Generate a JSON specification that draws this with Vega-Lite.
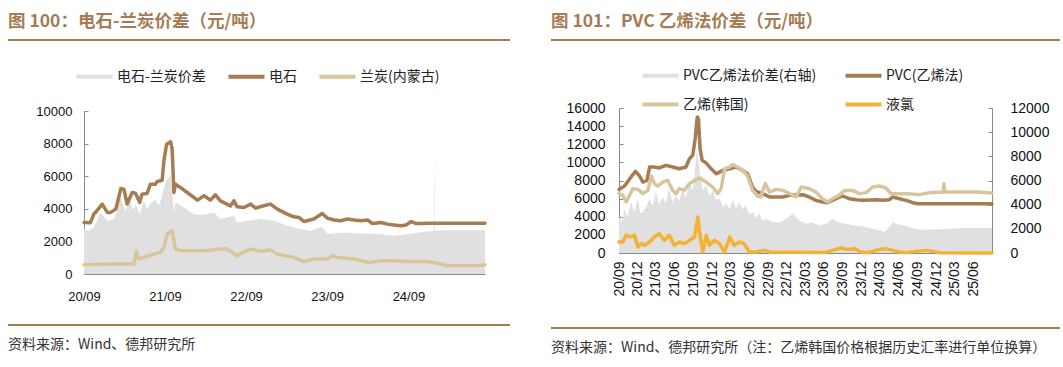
{
  "$schema": "https://vega.github.io/schema/vega-lite/v6.json",
  "background": "white",
  "padding": {"left": 7, "top": 4, "right": 0, "bottom": 0},
  "config": {
    "view": {"stroke": null},
    "font": "Noto Sans CJK SC",
    "axis": {"labelFont": "Liberation Sans", "labelColor": "#111111", "domainColor": "#8a8a8a", "tickColor": "#8a8a8a", "grid": false, "title": null, "labelFlush": false, "labelOverlap": false, "labelBound": false, "tickSize": -4}
  },
  "spacing": 39,
  "resolve": {"scale": {"color": "independent"}, "legend": {"color": "independent"}},
  "hconcat": [
    {
      "spacing": 64,
      "vconcat": [
        {
          "width": 502, "height": 36,
          "data": {"values": [{"t": "图 100：电石-兰炭价差（元/吨）"}]},
          "layer": [
            {"mark": {"type": "text", "align": "left", "baseline": "middle", "fontSize": 17.5, "fontWeight": "bold", "color": "#A57C55", "font": "Noto Sans CJK SC"},
             "encoding": {"x": {"datum": 0, "type": "quantitative", "scale": {"domain": [0, 1]}, "axis": null}, "y": {"datum": 0.5, "type": "quantitative", "scale": {"domain": [0, 1]}, "axis": null}, "text": {"field": "t"}}},
            {"mark": {"type": "rule", "color": "#A67C52", "strokeWidth": 2},
             "encoding": {"x": {"datum": 0, "type": "quantitative"}, "x2": {"datum": 1}, "y": {"datum": 0, "type": "quantitative"}}}
          ]
        },
        {
          "spacing": 21,
          "vconcat": [
            {
              "width": 477, "height": 163,
              "data": {"values": [
                {"d":"2020-09-01","s":"电石-兰炭价差","v":2760},{"d":"2020-09-20","s":"电石-兰炭价差","v":2650},{"d":"2020-10-15","s":"电石-兰炭价差","v":2860},{"d":"2020-10-30","s":"电石-兰炭价差","v":3300},{"d":"2020-11-15","s":"电石-兰炭价差","v":3780},{"d":"2020-12-01","s":"电石-兰炭价差","v":3500},{"d":"2020-12-15","s":"电石-兰炭价差","v":3270},{"d":"2021-01-14","s":"电石-兰炭价差","v":3370},{"d":"2021-01-28","s":"电石-兰炭价差","v":3900},{"d":"2021-02-11","s":"电石-兰炭价差","v":4900},{"d":"2021-02-22","s":"电石-兰炭价差","v":4300},{"d":"2021-03-06","s":"电石-兰炭价差","v":3880},{"d":"2021-03-29","s":"电石-兰炭价差","v":4490},{"d":"2021-04-10","s":"电石-兰炭价差","v":3900},{"d":"2021-04-21","s":"电石-兰炭价差","v":4290},{"d":"2021-05-10","s":"电石-兰炭价差","v":3670},{"d":"2021-05-28","s":"电石-兰炭价差","v":4490},{"d":"2021-06-12","s":"电石-兰炭价差","v":4000},{"d":"2021-06-27","s":"电石-兰炭价差","v":4290},{"d":"2021-07-20","s":"电石-兰炭价差","v":4590},{"d":"2021-08-01","s":"电石-兰炭价差","v":4200},{"d":"2021-08-12","s":"电石-兰炭价差","v":4490},{"d":"2021-09-04","s":"电石-兰炭价差","v":5710},{"d":"2021-09-26","s":"电石-兰炭价差","v":6020},{"d":"2021-10-11","s":"电石-兰炭价差","v":3780},{"d":"2021-10-18","s":"电石-兰炭价差","v":4390},{"d":"2021-11-25","s":"电石-兰炭价差","v":4080},{"d":"2022-01-09","s":"电石-兰炭价差","v":3670},{"d":"2022-02-24","s":"电石-兰炭价差","v":3630},{"d":"2022-04-09","s":"电石-兰炭价差","v":3780},{"d":"2022-05-08","s":"电石-兰炭价差","v":3370},{"d":"2022-07-08","s":"电石-兰炭价差","v":3570},{"d":"2022-07-23","s":"电石-兰炭价差","v":3160},{"d":"2022-09-07","s":"电石-兰炭价差","v":3270},{"d":"2022-11-06","s":"电石-兰炭价差","v":3370},{"d":"2023-01-05","s":"电石-兰炭价差","v":3270},{"d":"2023-03-05","s":"电石-兰炭价差","v":2960},{"d":"2023-05-04","s":"电石-兰炭价差","v":2760},{"d":"2023-06-18","s":"电石-兰炭价差","v":2650},{"d":"2023-08-10","s":"电石-兰炭价差","v":2900},{"d":"2023-09-02","s":"电石-兰炭价差","v":2450},{"d":"2023-11-16","s":"电石-兰炭价差","v":2550},{"d":"2024-01-31","s":"电石-兰炭价差","v":2490},{"d":"2024-04-15","s":"电石-兰炭价差","v":2450},{"d":"2024-06-29","s":"电石-兰炭价差","v":2350},{"d":"2024-08-28","s":"电石-兰炭价差","v":2450},{"d":"2024-11-27","s":"电石-兰炭价差","v":2610},{"d":"2024-12-24","s":"电石-兰炭价差","v":2650},{"d":"2024-12-26","s":"电石-兰炭价差","v":7600},{"d":"2024-12-28","s":"电石-兰炭价差","v":2650},{"d":"2025-02-10","s":"电石-兰炭价差","v":2690},{"d":"2025-08-12","s":"电石-兰炭价差","v":2690},
                {"d":"2020-09-01","s":"电石","v":3160},{"d":"2020-09-30","s":"电石","v":3150},{"d":"2020-10-15","s":"电石","v":3680},{"d":"2020-10-23","s":"电石","v":3780},{"d":"2020-11-22","s":"电石","v":4290},{"d":"2020-12-15","s":"电石","v":3780},{"d":"2020-12-30","s":"电石","v":3780},{"d":"2021-01-22","s":"电石","v":3980},{"d":"2021-02-14","s":"电石","v":5240},{"d":"2021-02-28","s":"电石","v":5200},{"d":"2021-03-14","s":"电石","v":4290},{"d":"2021-04-06","s":"电石","v":5000},{"d":"2021-04-21","s":"电石","v":4950},{"d":"2021-05-10","s":"电石","v":4390},{"d":"2021-05-20","s":"电石","v":4900},{"d":"2021-06-12","s":"电石","v":4940},{"d":"2021-06-27","s":"电石","v":5510},{"d":"2021-07-20","s":"电石","v":5510},{"d":"2021-07-27","s":"电石","v":5670},{"d":"2021-08-19","s":"电石","v":5755},{"d":"2021-08-27","s":"电石","v":6940},{"d":"2021-09-08","s":"电石","v":7960},{"d":"2021-09-26","s":"电石","v":8120},{"d":"2021-10-03","s":"电石","v":7650},{"d":"2021-10-11","s":"电石","v":5000},{"d":"2021-10-18","s":"电石","v":5510},{"d":"2021-11-10","s":"电石","v":5300},{"d":"2021-12-10","s":"电石","v":5000},{"d":"2022-01-25","s":"电石","v":4530},{"d":"2022-02-24","s":"电石","v":4800},{"d":"2022-03-24","s":"电石","v":4530},{"d":"2022-04-16","s":"电石","v":4860},{"d":"2022-05-08","s":"电石","v":4490},{"d":"2022-06-23","s":"电石","v":4180},{"d":"2022-07-08","s":"电石","v":4490},{"d":"2022-07-23","s":"电石","v":4120},{"d":"2022-08-22","s":"电石","v":4080},{"d":"2022-09-22","s":"电石","v":4290},{"d":"2022-10-14","s":"电石","v":4040},{"d":"2022-11-06","s":"电石","v":4140},{"d":"2022-12-20","s":"电石","v":4290},{"d":"2023-01-20","s":"电石","v":3980},{"d":"2023-03-05","s":"电石","v":3670},{"d":"2023-04-04","s":"电石","v":3510},{"d":"2023-04-27","s":"电石","v":3470},{"d":"2023-05-19","s":"电石","v":3220},{"d":"2023-07-03","s":"电石","v":3370},{"d":"2023-08-10","s":"电石","v":3710},{"d":"2023-09-02","s":"电石","v":3430},{"d":"2023-10-02","s":"电石","v":3310},{"d":"2023-11-01","s":"电石","v":3270},{"d":"2023-12-01","s":"电石","v":3370},{"d":"2024-01-01","s":"电石","v":3310},{"d":"2024-01-31","s":"电石","v":3270},{"d":"2024-03-01","s":"电石","v":3310},{"d":"2024-03-23","s":"电石","v":3100},{"d":"2024-04-30","s":"电石","v":3160},{"d":"2024-05-30","s":"电石","v":3060},{"d":"2024-06-29","s":"电石","v":3000},{"d":"2024-07-29","s":"电石","v":2960},{"d":"2024-08-21","s":"电石","v":3000},{"d":"2024-09-13","s":"电石","v":3220},{"d":"2024-10-05","s":"电石","v":3100},{"d":"2024-11-04","s":"电石","v":3100},{"d":"2024-11-27","s":"电石","v":3120},{"d":"2025-08-12","s":"电石","v":3120},
                {"d":"2020-09-01","s":"兰炭(内蒙古)","v":570},{"d":"2020-12-30","s":"兰炭(内蒙古)","v":610},{"d":"2021-04-13","s":"兰炭(内蒙古)","v":610},{"d":"2021-04-25","s":"兰炭(内蒙古)","v":1390},{"d":"2021-05-05","s":"兰炭(内蒙古)","v":920},{"d":"2021-05-28","s":"兰炭(内蒙古)","v":1020},{"d":"2021-07-12","s":"兰炭(内蒙古)","v":1220},{"d":"2021-08-12","s":"兰炭(内蒙古)","v":1330},{"d":"2021-08-27","s":"兰炭(内蒙古)","v":1630},{"d":"2021-09-11","s":"兰炭(内蒙古)","v":2450},{"d":"2021-10-03","s":"兰炭(内蒙古)","v":2650},{"d":"2021-10-18","s":"兰炭(内蒙古)","v":1530},{"d":"2021-11-10","s":"兰炭(内蒙古)","v":1430},{"d":"2022-02-24","s":"兰炭(内蒙古)","v":1430},{"d":"2022-06-01","s":"兰炭(内蒙古)","v":1570},{"d":"2022-07-08","s":"兰炭(内蒙古)","v":1270},{"d":"2022-07-23","s":"兰炭(内蒙古)","v":1120},{"d":"2022-08-15","s":"兰炭(内蒙古)","v":1330},{"d":"2022-09-22","s":"兰炭(内蒙古)","v":1530},{"d":"2022-11-06","s":"兰炭(内蒙古)","v":1390},{"d":"2022-12-20","s":"兰炭(内蒙古)","v":1470},{"d":"2023-01-20","s":"兰炭(内蒙古)","v":1220},{"d":"2023-04-04","s":"兰炭(内蒙古)","v":1020},{"d":"2023-05-19","s":"兰炭(内蒙古)","v":760},{"d":"2023-07-03","s":"兰炭(内蒙古)","v":920},{"d":"2023-09-02","s":"兰炭(内蒙古)","v":920},{"d":"2023-09-25","s":"兰炭(内蒙古)","v":1120},{"d":"2023-10-17","s":"兰炭(内蒙古)","v":1020},{"d":"2024-01-01","s":"兰炭(内蒙古)","v":920},{"d":"2024-03-08","s":"兰炭(内蒙古)","v":710},{"d":"2024-04-30","s":"兰炭(内蒙古)","v":820},{"d":"2024-06-29","s":"兰炭(内蒙古)","v":820},{"d":"2024-08-21","s":"兰炭(内蒙古)","v":760},{"d":"2024-11-27","s":"兰炭(内蒙古)","v":760},{"d":"2025-01-26","s":"兰炭(内蒙古)","v":610},{"d":"2025-02-25","s":"兰炭(内蒙古)","v":510},{"d":"2025-07-09","s":"兰炭(内蒙古)","v":510},{"d":"2025-08-12","s":"兰炭(内蒙古)","v":570}
              ]},
              "encoding": {
                "x": {"field": "d", "type": "temporal", "scale": {"type": "utc", "range": [76, 477], "domain": [{"year": 2020, "month": 9, "date": 1, "utc": true}, {"year": 2025, "month": 8, "date": 12, "utc": true}]},
                      "axis": {"values": [{"year": 2020, "month": 9, "date": 1, "utc": true}, {"year": 2021, "month": 9, "date": 1, "utc": true}, {"year": 2022, "month": 9, "date": 1, "utc": true}, {"year": 2023, "month": 9, "date": 1, "utc": true}, {"year": 2024, "month": 9, "date": 1, "utc": true}], "format": "%y/%m", "labelFontSize": 13, "labelPadding": 20}},
                "y": {"field": "v", "type": "quantitative", "scale": {"domain": [0, 10000]}, "axis": {"values": [0, 2000, 4000, 6000, 8000, 10000], "format": "d", "labelFontSize": 13, "labelPadding": 16, "offset": -76}}
              },
              "layer": [
                {"transform": [{"filter": "datum.s === '电石-兰炭价差'"}],
                 "mark": {"type": "area", "opacity": 1},
                 "encoding": {"color": {"field": "s", "type": "nominal", "scale": {"domain": ["电石-兰炭价差", "电石", "兰炭(内蒙古)"], "range": ["#E0E0E0", "#A67C52", "#D9C59C"]},
                   "legend": {"orient": "none", "legendX": 66, "legendY": 52, "direction": "horizontal", "title": null, "symbolType": "stroke", "symbolSize": 1300, "symbolStrokeWidth": 4, "labelFont": "Noto Sans CJK SC", "labelFontSize": 14, "labelColor": "#222222", "labelOffset": 2, "columnPadding": 14,
                     "encode": {"symbols": {"update": {"stroke": {"scale": "color", "field": "value"}, "strokeWidth": {"signal": "datum.value === '电石-兰炭价差' ? 8 : 4"}, "strokeCap": {"signal": "datum.value === '电石-兰炭价差' ? 'butt' : 'round'"}}}}}}}},
                {"transform": [{"filter": "datum.s === '兰炭(内蒙古)'"}],
                 "mark": {"type": "line", "strokeWidth": 3.5, "strokeJoin": "round", "strokeCap": "round"},
                 "encoding": {"color": {"field": "s", "type": "nominal"}}},
                {"transform": [{"filter": "datum.s === '电石'"}],
                 "mark": {"type": "line", "strokeWidth": 3.5, "strokeJoin": "round", "strokeCap": "round"},
                 "encoding": {"color": {"field": "s", "type": "nominal"}}}
              ]
            },
            {
              "width": 502, "height": 30,
              "data": {"values": [{"t": "资料来源：Wind、德邦研究所"}]},
              "layer": [
                {"mark": {"type": "rule", "color": "#A67C52", "strokeWidth": 2},
                 "encoding": {"x": {"datum": 0, "type": "quantitative", "scale": {"domain": [0, 1]}, "axis": null}, "x2": {"datum": 1}, "y": {"datum": 1, "type": "quantitative", "scale": {"domain": [0, 1]}, "axis": null}}},
                {"mark": {"type": "text", "align": "left", "baseline": "middle", "fontSize": 14, "color": "#333333", "font": "Noto Sans CJK SC"},
                 "encoding": {"x": {"datum": 0, "type": "quantitative"}, "y": {"datum": 0.33, "type": "quantitative"}, "text": {"field": "t"}}}
              ]
            }
          ]
        }
      ]
    },
    {
      "spacing": 60,
      "vconcat": [
        {
          "width": 509, "height": 36,
          "data": {"values": [{"t": "图 101：PVC 乙烯法价差（元/吨）"}]},
          "layer": [
            {"mark": {"type": "text", "align": "left", "baseline": "middle", "fontSize": 17.5, "fontWeight": "bold", "color": "#A57C55", "font": "Noto Sans CJK SC"},
             "encoding": {"x": {"datum": 0, "type": "quantitative", "scale": {"domain": [0, 1]}, "axis": null}, "y": {"datum": 0.5, "type": "quantitative", "scale": {"domain": [0, 1]}, "axis": null}, "text": {"field": "t"}}},
            {"mark": {"type": "rule", "color": "#A67C52", "strokeWidth": 2},
             "encoding": {"x": {"datum": 0, "type": "quantitative"}, "x2": {"datum": 1}, "y": {"datum": 0, "type": "quantitative"}}}
          ]
        },
        {
          "spacing": 30,
          "vconcat": [
            {
              "width": 441, "height": 145,
              "data": {"values": [
                {"d":"2020-09-01","k":"PVC乙烯法价差(右轴)","v":2980},{"d":"2020-09-15","k":"PVC乙烯法价差(右轴)","v":2500},{"d":"2020-09-28","k":"PVC乙烯法价差(右轴)","v":3670},{"d":"2020-10-12","k":"PVC乙烯法价差(右轴)","v":3000},{"d":"2020-10-30","k":"PVC乙烯法价差(右轴)","v":4220},{"d":"2020-11-15","k":"PVC乙烯法价差(右轴)","v":3400},{"d":"2020-12-02","k":"PVC乙烯法价差(右轴)","v":4500},{"d":"2020-12-15","k":"PVC乙烯法价差(右轴)","v":3300},{"d":"2020-12-27","k":"PVC乙烯法价差(右轴)","v":3390},{"d":"2021-01-12","k":"PVC乙烯法价差(右轴)","v":3800},{"d":"2021-01-29","k":"PVC乙烯法价差(右轴)","v":4500},{"d":"2021-02-12","k":"PVC乙烯法价差(右轴)","v":3900},{"d":"2021-03-01","k":"PVC乙烯法价差(右轴)","v":5050},{"d":"2021-03-16","k":"PVC乙烯法价差(右轴)","v":4000},{"d":"2021-04-03","k":"PVC乙烯法价差(右轴)","v":4630},{"d":"2021-04-18","k":"PVC乙烯法价差(右轴)","v":4100},{"d":"2021-05-05","k":"PVC乙烯法价差(右轴)","v":5320},{"d":"2021-05-20","k":"PVC乙烯法价差(右轴)","v":4200},{"d":"2021-06-07","k":"PVC乙烯法价差(右轴)","v":4770},{"d":"2021-06-22","k":"PVC乙烯法价差(右轴)","v":4300},{"d":"2021-07-10","k":"PVC乙烯法价差(右轴)","v":5320},{"d":"2021-07-26","k":"PVC乙烯法价差(右轴)","v":4600},{"d":"2021-08-12","k":"PVC乙烯法价差(右轴)","v":5880},{"d":"2021-08-28","k":"PVC乙烯法价差(右轴)","v":5200},{"d":"2021-09-06","k":"PVC乙烯法价差(右轴)","v":6430},{"d":"2021-09-17","k":"PVC乙烯法价差(右轴)","v":8630},{"d":"2021-09-24","k":"PVC乙烯法价差(右轴)","v":7810},{"d":"2021-10-03","k":"PVC乙烯法价差(右轴)","v":6430},{"d":"2021-10-16","k":"PVC乙烯法价差(右轴)","v":5200},{"d":"2021-11-02","k":"PVC乙烯法价差(右轴)","v":5600},{"d":"2021-11-18","k":"PVC乙烯法价差(右轴)","v":4700},{"d":"2021-12-04","k":"PVC乙烯法价差(右轴)","v":5190},{"d":"2021-12-20","k":"PVC乙烯法价差(右轴)","v":4400},{"d":"2022-01-06","k":"PVC乙烯法价差(右轴)","v":4500},{"d":"2022-01-22","k":"PVC乙烯法价差(右轴)","v":3800},{"d":"2022-02-08","k":"PVC乙烯法价差(右轴)","v":4080},{"d":"2022-02-24","k":"PVC乙烯法价差(右轴)","v":3600},{"d":"2022-03-11","k":"PVC乙烯法价差(右轴)","v":4360},{"d":"2022-03-27","k":"PVC乙烯法价差(右轴)","v":3700},{"d":"2022-04-13","k":"PVC乙烯法价差(右轴)","v":4220},{"d":"2022-04-28","k":"PVC乙烯法价差(右轴)","v":3600},{"d":"2022-05-15","k":"PVC乙烯法价差(右轴)","v":3940},{"d":"2022-06-01","k":"PVC乙烯法价差(右轴)","v":3200},{"d":"2022-06-17","k":"PVC乙烯法价差(右轴)","v":3390},{"d":"2022-07-03","k":"PVC乙烯法价差(右轴)","v":2900},{"d":"2022-07-19","k":"PVC乙烯法价差(右轴)","v":3260},{"d":"2022-08-05","k":"PVC乙烯法价差(右轴)","v":2700},{"d":"2022-08-21","k":"PVC乙烯法价差(右轴)","v":2840},{"d":"2022-09-24","k":"PVC乙烯法价差(右轴)","v":2570},{"d":"2022-10-26","k":"PVC乙烯法价差(右轴)","v":2510},{"d":"2022-11-28","k":"PVC乙烯法价差(右轴)","v":2840},{"d":"2022-12-31","k":"PVC乙烯法价差(右轴)","v":3260},{"d":"2023-02-02","k":"PVC乙烯法价差(右轴)","v":2700},{"d":"2023-03-05","k":"PVC乙烯法价差(右轴)","v":2430},{"d":"2023-04-07","k":"PVC乙烯法价差(右轴)","v":2510},{"d":"2023-05-09","k":"PVC乙烯法价差(右轴)","v":2290},{"d":"2023-06-11","k":"PVC乙烯法价差(右轴)","v":2430},{"d":"2023-07-13","k":"PVC乙烯法价差(右轴)","v":2840},{"d":"2023-08-15","k":"PVC乙烯法价差(右轴)","v":2510},{"d":"2023-09-17","k":"PVC乙烯法价差(右轴)","v":2430},{"d":"2023-10-20","k":"PVC乙烯法价差(右轴)","v":2290},{"d":"2023-11-22","k":"PVC乙烯法价差(右轴)","v":2230},{"d":"2023-12-24","k":"PVC乙烯法价差(右轴)","v":2150},{"d":"2024-01-26","k":"PVC乙烯法价差(右轴)","v":2010},{"d":"2024-02-28","k":"PVC乙烯法价差(右轴)","v":1880},{"d":"2024-03-23","k":"PVC乙烯法价差(右轴)","v":1740},{"d":"2024-04-17","k":"PVC乙烯法价差(右轴)","v":2150},{"d":"2024-05-03","k":"PVC乙烯法价差(右轴)","v":2570},{"d":"2024-05-19","k":"PVC乙烯法价差(右轴)","v":2430},{"d":"2024-06-21","k":"PVC乙烯法价差(右轴)","v":2290},{"d":"2024-07-23","k":"PVC乙烯法价差(右轴)","v":2150},{"d":"2024-08-25","k":"PVC乙烯法价差(右轴)","v":1960},{"d":"2024-10-13","k":"PVC乙烯法价差(右轴)","v":1930},{"d":"2025-02-06","k":"PVC乙烯法价差(右轴)","v":2010},{"d":"2025-04-10","k":"PVC乙烯法价差(右轴)","v":2070},{"d":"2025-09-01","k":"PVC乙烯法价差(右轴)","v":2070},
                {"d":"2020-09-01","k":"PVC(乙烯法)","v":7020},{"d":"2020-09-28","k":"PVC(乙烯法)","v":7390},{"d":"2020-10-30","k":"PVC(乙烯法)","v":8390},{"d":"2020-11-21","k":"PVC(乙烯法)","v":9010},{"d":"2020-12-10","k":"PVC(乙烯法)","v":8500},{"d":"2020-12-27","k":"PVC(乙烯法)","v":7830},{"d":"2021-01-16","k":"PVC(乙烯法)","v":8020},{"d":"2021-01-29","k":"PVC(乙烯法)","v":9490},{"d":"2021-02-21","k":"PVC(乙烯法)","v":9490},{"d":"2021-03-17","k":"PVC(乙烯法)","v":9380},{"d":"2021-04-19","k":"PVC(乙烯法)","v":9670},{"d":"2021-05-22","k":"PVC(乙烯法)","v":9490},{"d":"2021-06-23","k":"PVC(乙烯法)","v":9300},{"d":"2021-07-26","k":"PVC(乙烯法)","v":9490},{"d":"2021-08-12","k":"PVC(乙烯法)","v":10410},{"d":"2021-08-28","k":"PVC(乙烯法)","v":10780},{"d":"2021-09-09","k":"PVC(乙烯法)","v":12610},{"d":"2021-09-19","k":"PVC(乙烯法)","v":15000},{"d":"2021-09-25","k":"PVC(乙烯法)","v":14820},{"d":"2021-10-03","k":"PVC(乙烯法)","v":11510},{"d":"2021-10-13","k":"PVC(乙烯法)","v":10220},{"d":"2021-11-02","k":"PVC(乙烯法)","v":9930},{"d":"2021-11-18","k":"PVC(乙烯法)","v":9490},{"d":"2021-12-21","k":"PVC(乙烯法)","v":8750},{"d":"2022-01-23","k":"PVC(乙烯法)","v":9120},{"d":"2022-02-25","k":"PVC(乙烯法)","v":9300},{"d":"2022-03-27","k":"PVC(乙烯法)","v":9490},{"d":"2022-04-29","k":"PVC(乙烯法)","v":9120},{"d":"2022-05-23","k":"PVC(乙烯法)","v":8750},{"d":"2022-06-17","k":"PVC(乙烯法)","v":7280},{"d":"2022-07-03","k":"PVC(乙烯法)","v":6800},{"d":"2022-08-05","k":"PVC(乙烯法)","v":6550},{"d":"2022-09-08","k":"PVC(乙烯法)","v":6180},{"d":"2022-11-12","k":"PVC(乙烯法)","v":6180},{"d":"2022-12-14","k":"PVC(乙烯法)","v":6360},{"d":"2023-02-18","k":"PVC(乙烯法)","v":6440},{"d":"2023-03-21","k":"PVC(乙烯法)","v":6180},{"d":"2023-04-23","k":"PVC(乙烯法)","v":5810},{"d":"2023-05-25","k":"PVC(乙烯法)","v":5630},{"d":"2023-06-19","k":"PVC(乙烯法)","v":5550},{"d":"2023-07-30","k":"PVC(乙烯法)","v":5990},{"d":"2023-09-01","k":"PVC(乙烯法)","v":6290},{"d":"2023-10-03","k":"PVC(乙烯法)","v":5990},{"d":"2023-11-06","k":"PVC(乙烯法)","v":5880},{"d":"2023-12-08","k":"PVC(乙烯法)","v":5810},{"d":"2024-02-12","k":"PVC(乙烯法)","v":5880},{"d":"2024-03-14","k":"PVC(乙烯法)","v":5810},{"d":"2024-04-17","k":"PVC(乙烯法)","v":5880},{"d":"2024-05-03","k":"PVC(乙烯法)","v":6180},{"d":"2024-06-05","k":"PVC(乙烯法)","v":5990},{"d":"2024-07-07","k":"PVC(乙烯法)","v":5810},{"d":"2024-08-09","k":"PVC(乙烯法)","v":5550},{"d":"2024-09-03","k":"PVC(乙烯法)","v":5440},{"d":"2025-09-01","k":"PVC(乙烯法)","v":5440},
                {"d":"2020-09-01","k":"乙烯(韩国)","v":6550},{"d":"2020-09-20","k":"乙烯(韩国)","v":6360},{"d":"2020-10-06","k":"乙烯(韩国)","v":5630},{"d":"2020-10-22","k":"乙烯(韩国)","v":6360},{"d":"2020-11-08","k":"乙烯(韩国)","v":7100},{"d":"2020-12-02","k":"乙烯(韩国)","v":7020},{"d":"2020-12-27","k":"乙烯(韩国)","v":6550},{"d":"2021-01-21","k":"乙烯(韩国)","v":6910},{"d":"2021-02-06","k":"乙烯(韩国)","v":8500},{"d":"2021-02-21","k":"乙烯(韩国)","v":7650},{"d":"2021-03-09","k":"乙烯(韩国)","v":7390},{"d":"2021-04-03","k":"乙烯(韩国)","v":7830},{"d":"2021-04-27","k":"乙烯(韩国)","v":8020},{"d":"2021-05-22","k":"乙烯(韩国)","v":6910},{"d":"2021-06-07","k":"乙烯(韩国)","v":6550},{"d":"2021-06-23","k":"乙烯(韩国)","v":7100},{"d":"2021-07-18","k":"乙烯(韩国)","v":6910},{"d":"2021-08-12","k":"乙烯(韩国)","v":7650},{"d":"2021-09-06","k":"乙烯(韩国)","v":8020},{"d":"2021-09-30","k":"乙烯(韩国)","v":8270},{"d":"2021-11-02","k":"乙烯(韩国)","v":7830},{"d":"2021-12-04","k":"乙烯(韩国)","v":7280},{"d":"2021-12-29","k":"乙烯(韩国)","v":6550},{"d":"2022-01-14","k":"乙烯(韩国)","v":7100},{"d":"2022-01-31","k":"乙烯(韩国)","v":9300},{"d":"2022-02-25","k":"乙烯(韩国)","v":9490},{"d":"2022-03-11","k":"乙烯(韩国)","v":9750},{"d":"2022-04-05","k":"乙烯(韩国)","v":9490},{"d":"2022-04-29","k":"乙烯(韩国)","v":9120},{"d":"2022-05-23","k":"乙烯(韩国)","v":8500},{"d":"2022-06-17","k":"乙烯(韩国)","v":6910},{"d":"2022-07-11","k":"乙烯(韩国)","v":6290},{"d":"2022-07-27","k":"乙烯(韩国)","v":6180},{"d":"2022-08-18","k":"乙烯(韩国)","v":7650},{"d":"2022-09-08","k":"乙烯(韩国)","v":6730},{"d":"2022-10-10","k":"乙烯(韩国)","v":7020},{"d":"2022-11-12","k":"乙烯(韩国)","v":6910},{"d":"2022-12-14","k":"乙烯(韩国)","v":6550},{"d":"2023-01-16","k":"乙烯(韩国)","v":6180},{"d":"2023-02-10","k":"乙烯(韩国)","v":7280},{"d":"2023-03-21","k":"乙烯(韩国)","v":7100},{"d":"2023-04-23","k":"乙烯(韩国)","v":6730},{"d":"2023-05-25","k":"乙烯(韩国)","v":5990},{"d":"2023-06-19","k":"乙烯(韩国)","v":5630},{"d":"2023-07-13","k":"乙烯(韩国)","v":5990},{"d":"2023-08-15","k":"乙烯(韩国)","v":6360},{"d":"2023-09-09","k":"乙烯(韩国)","v":6910},{"d":"2023-10-20","k":"乙烯(韩国)","v":6910},{"d":"2023-11-22","k":"乙烯(韩国)","v":6550},{"d":"2023-12-24","k":"乙烯(韩国)","v":6660},{"d":"2024-01-26","k":"乙烯(韩国)","v":7280},{"d":"2024-02-28","k":"乙烯(韩国)","v":7390},{"d":"2024-03-31","k":"乙烯(韩国)","v":7170},{"d":"2024-04-25","k":"乙烯(韩国)","v":6550},{"d":"2024-07-23","k":"乙烯(韩国)","v":6550},{"d":"2024-09-11","k":"乙烯(韩国)","v":6440},{"d":"2024-10-30","k":"乙烯(韩国)","v":6660},{"d":"2025-01-04","k":"乙烯(韩国)","v":6730},{"d":"2025-01-08","k":"乙烯(韩国)","v":7650},{"d":"2025-01-12","k":"乙烯(韩国)","v":6730},{"d":"2025-06-15","k":"乙烯(韩国)","v":6730},{"d":"2025-09-01","k":"乙烯(韩国)","v":6620},
                {"d":"2020-09-01","k":"液氯","v":1210},{"d":"2020-09-20","k":"液氯","v":1210},{"d":"2020-10-06","k":"液氯","v":1950},{"d":"2020-10-30","k":"液氯","v":1770},{"d":"2020-11-16","k":"液氯","v":1950},{"d":"2020-12-02","k":"液氯","v":660},{"d":"2020-12-19","k":"液氯","v":1030},{"d":"2021-01-04","k":"液氯","v":850},{"d":"2021-01-29","k":"液氯","v":1210},{"d":"2021-02-21","k":"液氯","v":1770},{"d":"2021-03-17","k":"液氯","v":2130},{"d":"2021-04-11","k":"液氯","v":1400},{"d":"2021-05-05","k":"液氯","v":1950},{"d":"2021-05-30","k":"液氯","v":850},{"d":"2021-06-23","k":"液氯","v":1210},{"d":"2021-07-18","k":"液氯","v":1030},{"d":"2021-08-12","k":"液氯","v":1400},{"d":"2021-09-06","k":"液氯","v":1770},{"d":"2021-09-22","k":"液氯","v":3970},{"d":"2021-09-30","k":"液氯","v":2320},{"d":"2021-10-16","k":"液氯","v":110},{"d":"2021-11-02","k":"液氯","v":1950},{"d":"2021-11-18","k":"液氯","v":850},{"d":"2021-12-12","k":"液氯","v":1400},{"d":"2022-01-06","k":"液氯","v":1030},{"d":"2022-01-31","k":"液氯","v":110},{"d":"2022-02-25","k":"液氯","v":1770},{"d":"2022-03-19","k":"液氯","v":850},{"d":"2022-04-13","k":"液氯","v":1210},{"d":"2022-05-07","k":"液氯","v":1030},{"d":"2022-06-01","k":"液氯","v":110},{"d":"2022-07-03","k":"液氯","v":110},{"d":"2022-08-13","k":"液氯","v":290},{"d":"2022-09-08","k":"液氯","v":110},{"d":"2023-06-11","k":"液氯","v":60},{"d":"2023-07-13","k":"液氯","v":290},{"d":"2023-08-23","k":"液氯","v":550},{"d":"2023-09-25","k":"液氯","v":400},{"d":"2023-10-28","k":"液氯","v":480},{"d":"2023-11-30","k":"液氯","v":110},{"d":"2024-01-02","k":"液氯","v":40},{"d":"2024-01-26","k":"液氯","v":180},{"d":"2024-02-28","k":"液氯","v":400},{"d":"2024-03-31","k":"液氯","v":480},{"d":"2024-05-03","k":"液氯","v":290},{"d":"2024-06-05","k":"液氯","v":110},{"d":"2024-07-07","k":"液氯","v":40},{"d":"2024-08-25","k":"液氯","v":180},{"d":"2024-10-13","k":"液氯","v":290},{"d":"2024-11-16","k":"液氯","v":180},{"d":"2024-12-18","k":"液氯","v":40},{"d":"2025-09-01","k":"液氯","v":0}
              ]},
              "encoding": {
                "x": {"field": "d", "type": "temporal", "scale": {"type": "utc", "range": [68, 441], "domain": [{"year": 2020, "month": 9, "date": 1, "utc": true}, {"year": 2025, "month": 9, "date": 1, "utc": true}]},
                      "axis": {"values": [
                        {"year": 2020, "month": 9, "date": 1, "utc": true}, {"year": 2020, "month": 12, "date": 1, "utc": true},
                        {"year": 2021, "month": 3, "date": 1, "utc": true}, {"year": 2021, "month": 6, "date": 1, "utc": true}, {"year": 2021, "month": 9, "date": 1, "utc": true}, {"year": 2021, "month": 12, "date": 1, "utc": true},
                        {"year": 2022, "month": 3, "date": 1, "utc": true}, {"year": 2022, "month": 6, "date": 1, "utc": true}, {"year": 2022, "month": 9, "date": 1, "utc": true}, {"year": 2022, "month": 12, "date": 1, "utc": true},
                        {"year": 2023, "month": 3, "date": 1, "utc": true}, {"year": 2023, "month": 6, "date": 1, "utc": true}, {"year": 2023, "month": 9, "date": 1, "utc": true}, {"year": 2023, "month": 12, "date": 1, "utc": true},
                        {"year": 2024, "month": 3, "date": 1, "utc": true}, {"year": 2024, "month": 6, "date": 1, "utc": true}, {"year": 2024, "month": 9, "date": 1, "utc": true}, {"year": 2024, "month": 12, "date": 1, "utc": true},
                        {"year": 2025, "month": 3, "date": 1, "utc": true}, {"year": 2025, "month": 6, "date": 1, "utc": true}], "format": "%y/%m", "labelAngle": -90, "labelFontSize": 14, "labelPadding": 12}}
              },
              "resolve": {"scale": {"y": "independent"}},
              "layer": [
                {"transform": [{"filter": "datum.k === 'PVC乙烯法价差(右轴)'"}],
                 "mark": {"type": "area", "opacity": 1},
                 "encoding": {
                   "y": {"field": "v", "type": "quantitative", "scale": {"domain": [0, 12000]}, "axis": {"orient": "right", "values": [0, 2000, 4000, 6000, 8000, 10000, 12000], "format": "d", "labelFontSize": 14, "labelPadding": 22}},
                   "color": {"field": "k", "type": "nominal", "scale": {"domain": ["PVC乙烯法价差(右轴)", "PVC(乙烯法)", "乙烯(韩国)", "液氯"], "range": ["#E0E0E0", "#A67C52", "#D9C59C", "#F3B233"]},
                     "legend": {"orient": "none", "legendX": 89, "legendY": 51, "columns": 2, "direction": "horizontal", "title": null, "symbolType": "stroke", "symbolSize": 1300, "symbolStrokeWidth": 4, "labelFont": "Noto Sans CJK SC", "labelFontSize": 14, "labelColor": "#222222", "labelOffset": 2, "columnPadding": 20, "rowPadding": -6,
                       "encode": {"symbols": {"update": {"stroke": {"scale": "color", "field": "value"}, "strokeWidth": {"signal": "datum.value === 'PVC乙烯法价差(右轴)' ? 8 : 4"}, "strokeCap": {"signal": "datum.value === 'PVC乙烯法价差(右轴)' ? 'butt' : 'round'"}}}}}}}},
                {
                  "encoding": {"y": {"field": "v", "type": "quantitative", "scale": {"domain": [0, 16000]}, "axis": {"orient": "left", "values": [0, 2000, 4000, 6000, 8000, 10000, 12000, 14000, 16000], "format": "d", "labelFontSize": 14, "labelPadding": 18, "offset": -68}}},
                  "layer": [
                    {"transform": [{"filter": "datum.k === 'PVC(乙烯法)'"}],
                     "mark": {"type": "line", "strokeWidth": 3.5, "strokeJoin": "round", "strokeCap": "round"},
                     "encoding": {"color": {"field": "k", "type": "nominal"}}},
                    {"transform": [{"filter": "datum.k === '乙烯(韩国)'"}],
                     "mark": {"type": "line", "strokeWidth": 3.5, "strokeJoin": "round", "strokeCap": "round"},
                     "encoding": {"color": {"field": "k", "type": "nominal"}}},
                    {"transform": [{"filter": "datum.k === '液氯'"}],
                     "mark": {"type": "line", "strokeWidth": 3.5, "strokeJoin": "round", "strokeCap": "round"},
                     "encoding": {"color": {"field": "k", "type": "nominal"}}}
                  ]
                }
              ]
            },
            {
              "width": 509, "height": 30,
              "data": {"values": [{"t": "资料来源：Wind、德邦研究所（注：乙烯韩国价格根据历史汇率进行单位换算）"}]},
              "layer": [
                {"mark": {"type": "rule", "color": "#A67C52", "strokeWidth": 2},
                 "encoding": {"x": {"datum": 0, "type": "quantitative", "scale": {"domain": [0, 1]}, "axis": null}, "x2": {"datum": 1}, "y": {"datum": 1, "type": "quantitative", "scale": {"domain": [0, 1]}, "axis": null}}},
                {"mark": {"type": "text", "align": "left", "baseline": "middle", "fontSize": 14, "color": "#333333", "font": "Noto Sans CJK SC"},
                 "encoding": {"x": {"datum": 0, "type": "quantitative"}, "y": {"datum": 0.33, "type": "quantitative"}, "text": {"field": "t"}}}
              ]
            }
          ]
        }
      ]
    }
  ]
}
